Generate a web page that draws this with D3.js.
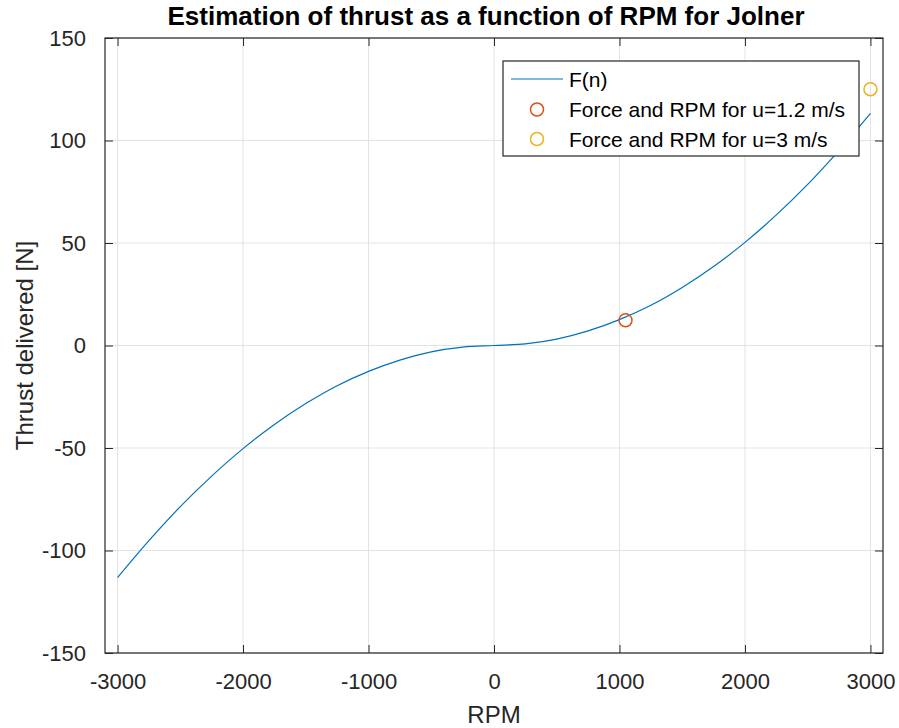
<!DOCTYPE html>
<html>
<head>
<meta charset="utf-8">
<script src="https://cdn.jsdelivr.net/npm/d3@7"></script>
<style>
  html, body { margin: 0; padding: 0; background: #fff; }
  svg { display: block; font-family: "Liberation Sans", Arial, Helvetica, sans-serif; }
</style>
</head>
<body>
<svg id="chart" width="899" height="728"></svg>
<script>
// Thrust curve F(n), sampled every 250 RPM
const rpm    = [-3000, -2750, -2500, -2250, -2000, -1750, -1500, -1250, -1000, -750, -500, -250, 0,
                 250, 500, 750, 1000, 1250, 1500, 1750, 2000, 2250, 2500, 2750, 3000];
const thrust = [-113.2, -95.2, -78.6, -63.7, -50.3, -38.5, -28.3, -19.6, -12.6, -7.1, -3.1, -0.8, 0,
                 0.8, 3.1, 7.1, 12.6, 19.6, 28.3, 38.5, 50.3, 63.7, 78.6, 95.2, 113.2];

// Operating points
const pointRpm    = [1048, 3000];
const pointForce  = [12.3, 125];
const pointLabels = ["Force and RPM for u=1.2 m/s", "Force and RPM for u=3 m/s"];
const lineLabel   = "F(n)";

const xTicks = [-3000, -2000, -1000, 0, 1000, 2000, 3000];
const yTicks = [-150, -100, -50, 0, 50, 100, 150];

const colors = { line: "#0072BD", p1: "#D95319", p2: "#EDB120", axis: "#262626", grid: "#e3e3e3" };
const pointColors = [colors.p1, colors.p2];

const svg = d3.select("#chart");
const L = 105, R = 883, T = 38, B = 653;

const x = d3.scaleLinear().domain([-3100, 3100]).range([L, R]);
const y = d3.scaleLinear().domain([-150, 150]).range([B, T]);

// plain hyphen for negative tick labels
const fmt = d => String(d);

// grid
const grid = svg.append("g");
grid.selectAll(".gx").data(xTicks).join("line")
  .attr("x1", d => x(d)).attr("x2", d => x(d)).attr("y1", T).attr("y2", B)
  .attr("stroke", colors.grid).attr("stroke-width", 1);
grid.selectAll(".gy").data(yTicks).join("line")
  .attr("y1", d => y(d)).attr("y2", d => y(d)).attr("x1", L).attr("x2", R)
  .attr("stroke", colors.grid).attr("stroke-width", 1);

// curve
const pts = rpm.map((n, i) => [n, thrust[i]]);
svg.append("path")
  .datum(pts)
  .attr("fill", "none")
  .attr("stroke", colors.line)
  .attr("stroke-width", 1.2)
  .attr("d", d3.line().x(d => x(d[0])).y(d => y(d[1])).curve(d3.curveCatmullRom.alpha(0.5)));

// operating point markers
svg.selectAll(".pt").data(pointRpm).join("circle")
  .attr("cx", d => x(d))
  .attr("cy", (d, i) => y(pointForce[i]))
  .attr("r", 6.5)
  .attr("fill", "none")
  .attr("stroke", (d, i) => pointColors[i])
  .attr("stroke-width", 1.5);

// axes (ticks inside, on all four sides)
const tickLen = 8;
const axStyle = g => {
  g.select(".domain").remove();
  g.selectAll(".tick line").attr("stroke", colors.axis);
  g.selectAll(".tick text").attr("fill", colors.axis).attr("font-size", 22)
    .attr("font-family", '"Liberation Sans", Arial, sans-serif');
};
svg.append("g").attr("transform", `translate(0,${B})`)
  .call(d3.axisBottom(x).tickValues(xTicks).tickSize(-tickLen).tickPadding(20).tickFormat(fmt))
  .call(axStyle);
svg.append("g").attr("transform", `translate(0,${T})`)
  .call(d3.axisTop(x).tickValues(xTicks).tickSize(-tickLen).tickFormat(""))
  .call(axStyle);
svg.append("g").attr("transform", `translate(${L},0)`)
  .call(d3.axisLeft(y).tickValues(yTicks).tickSize(-tickLen).tickPadding(19).tickFormat(fmt))
  .call(axStyle);
svg.append("g").attr("transform", `translate(${R},0)`)
  .call(d3.axisRight(y).tickValues(yTicks).tickSize(-tickLen).tickFormat(""))
  .call(axStyle);

// box
svg.append("rect")
  .attr("x", L).attr("y", T).attr("width", R - L).attr("height", B - T)
  .attr("fill", "none").attr("stroke", colors.axis).attr("stroke-width", 1.2);

// title and labels
svg.append("text")
  .attr("x", 486).attr("y", 25)
  .attr("text-anchor", "middle").attr("font-weight", "bold").attr("font-size", 26)
  .attr("fill", "#000")
  .text("Estimation of thrust as a function of RPM for Jolner");
svg.append("text")
  .attr("x", x(0)).attr("y", 723)
  .attr("text-anchor", "middle").attr("font-size", 24).attr("fill", colors.axis)
  .text("RPM");
svg.append("text")
  .attr("transform", `translate(33,${y(0)}) rotate(-90)`)
  .attr("text-anchor", "middle").attr("font-size", 24).attr("fill", colors.axis)
  .text("Thrust delivered [N]");

// legend
const lg = svg.append("g");
lg.append("rect")
  .attr("x", 503).attr("y", 61).attr("width", 356).attr("height", 95)
  .attr("fill", "#fff").attr("stroke", colors.axis).attr("stroke-width", 1.2);
const rowY = [79, 109.5, 139];
lg.append("line")
  .attr("x1", 511).attr("x2", 563).attr("y1", rowY[0]).attr("y2", rowY[0])
  .attr("stroke", colors.line).attr("stroke-width", 1.2);
lg.selectAll(".lc").data(pointLabels).join("circle")
  .attr("cx", 537).attr("cy", (d, i) => rowY[i + 1]).attr("r", 6.5)
  .attr("fill", "none").attr("stroke", (d, i) => pointColors[i]).attr("stroke-width", 1.5);
lg.selectAll(".lt").data([lineLabel, ...pointLabels]).join("text")
  .attr("x", 569).attr("y", (d, i) => rowY[i]).attr("dy", "0.36em")
  .attr("font-size", 21).attr("fill", "#000")
  .text(d => d);
</script>
</body>
</html>
